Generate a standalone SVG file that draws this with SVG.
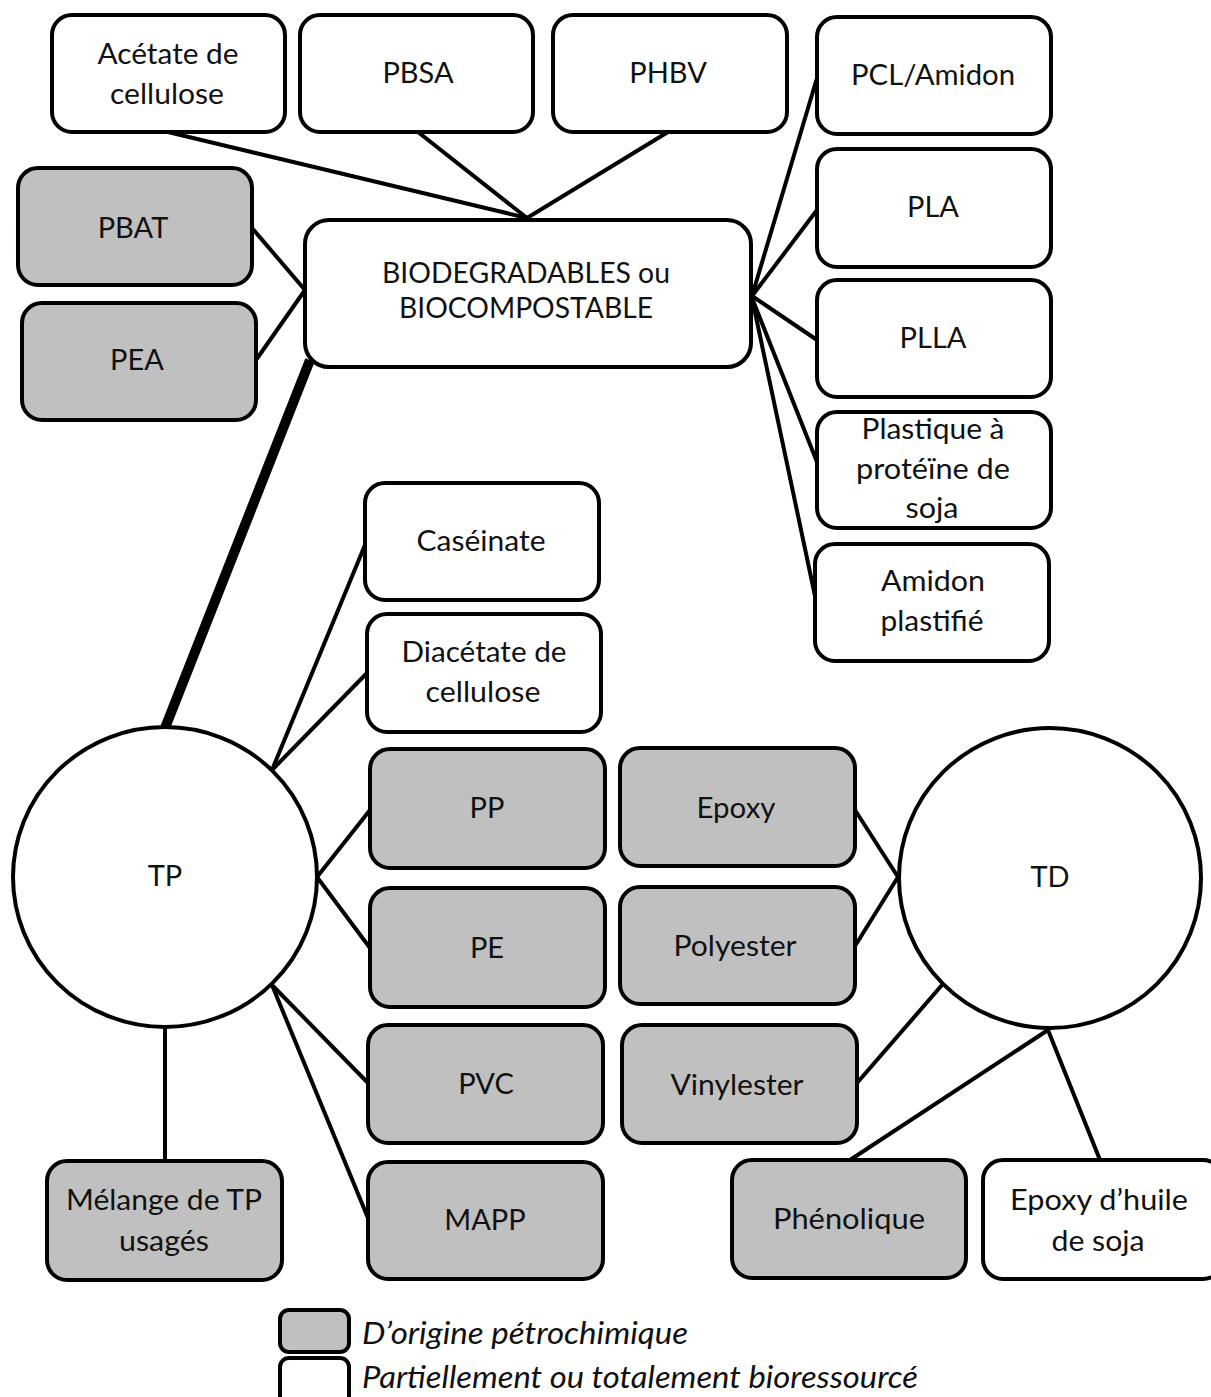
<svg xmlns="http://www.w3.org/2000/svg" width="1211" height="1397" viewBox="0 0 1211 1397">
<style>
.b{fill:#fff;stroke:#000;stroke-width:4}
.g{fill:#c0c0c0;stroke:#000;stroke-width:4}
.c{fill:#fff;stroke:#000;stroke-width:4}
.t{font-family:Lato,"Open Sans","Liberation Sans",sans-serif;font-size:29px;fill:#111;text-anchor:middle}
.l{font-family:Lato,"Open Sans","Liberation Sans",sans-serif;font-size:30px;font-style:italic;fill:#111}
#conn line{stroke:#000;stroke-width:4}
</style>
<rect width="1211" height="1397" fill="#fff"/>
<g id="conn">
<line x1="168" y1="132" x2="527" y2="218"/>
<line x1="418" y1="132" x2="527" y2="218"/>
<line x1="668" y1="132" x2="527" y2="218"/>
<line x1="252" y1="228" x2="305" y2="290"/>
<line x1="256" y1="360" x2="305" y2="290"/>
<line x1="752" y1="296" x2="817" y2="78"/>
<line x1="752" y1="296" x2="817" y2="210"/>
<line x1="752" y1="296" x2="817" y2="340"/>
<line x1="752" y1="298" x2="817" y2="462"/>
<line x1="752" y1="298" x2="815" y2="596"/>
<line x1="310" y1="360" x2="165" y2="728" style="stroke-width:10"/>
<line x1="272" y1="770" x2="365" y2="545"/>
<line x1="272" y1="770" x2="367" y2="673"/>
<line x1="317" y1="877" x2="370" y2="810"/>
<line x1="317" y1="877" x2="370" y2="948"/>
<line x1="272" y1="985" x2="368" y2="1083"/>
<line x1="272" y1="985" x2="368" y2="1218"/>
<line x1="165" y1="1028" x2="165" y2="1161"/>
<line x1="855" y1="810" x2="898" y2="877"/>
<line x1="855" y1="946" x2="898" y2="877"/>
<line x1="857" y1="1083" x2="942" y2="985"/>
<line x1="1048" y1="1030" x2="850" y2="1160"/>
<line x1="1048" y1="1030" x2="1100" y2="1160"/>
</g>
<g id="acetate"><rect class="b" x="52" y="15" width="233" height="117" rx="20"/><text class="t" x="168" y="64" textLength="141" lengthAdjust="spacingAndGlyphs">Acétate de</text><text class="t" x="167" y="104" textLength="114" lengthAdjust="spacingAndGlyphs">cellulose</text></g>
<g id="pbsa"><rect class="b" x="300" y="15" width="233" height="117" rx="20"/><text class="t" x="418" y="83">PBSA</text></g>
<g id="phbv"><rect class="b" x="553" y="15" width="234" height="117" rx="20"/><text class="t" x="668" y="83">PHBV</text></g>
<g id="pcl"><rect class="b" x="817" y="17" width="234" height="117" rx="20"/><text class="t" x="933" y="85" textLength="164" lengthAdjust="spacingAndGlyphs">PCL/Amidon</text></g>
<g id="pla"><rect class="b" x="817" y="149" width="234" height="118" rx="20"/><text class="t" x="933" y="217">PLA</text></g>
<g id="plla"><rect class="b" x="817" y="280" width="234" height="117" rx="20"/><text class="t" x="933" y="348">PLLA</text></g>
<g id="soja"><rect class="b" x="817" y="412" width="234" height="116" rx="20"/><text class="t" x="933" y="439" textLength="143" lengthAdjust="spacingAndGlyphs">Plastique à</text><text class="t" x="933" y="479" textLength="154" lengthAdjust="spacingAndGlyphs">protéïne de</text><text class="t" x="932" y="518" textLength="53" lengthAdjust="spacingAndGlyphs">soja</text></g>
<g id="amidon"><rect class="b" x="815" y="544" width="234" height="117" rx="20"/><text class="t" x="933" y="591" textLength="104" lengthAdjust="spacingAndGlyphs">Amidon</text><text class="t" x="932" y="631" textLength="103" lengthAdjust="spacingAndGlyphs">plastifié</text></g>
<g id="pbat"><rect class="g" x="18" y="168" width="234" height="117" rx="20"/><text class="t" x="133" y="238">PBAT</text></g>
<g id="pea"><rect class="g" x="22" y="303" width="234" height="117" rx="20"/><text class="t" x="137" y="370">PEA</text></g>
<g id="bio"><rect class="b" x="305" y="220" width="446" height="147" rx="24"/><text class="t" x="526" y="283" textLength="288" lengthAdjust="spacingAndGlyphs">BIODEGRADABLES ou</text><text class="t" x="526" y="318" textLength="254" lengthAdjust="spacingAndGlyphs">BIOCOMPOSTABLE</text></g>
<g id="caseinate"><rect class="b" x="365" y="483" width="234" height="117" rx="20"/><text class="t" x="481" y="551" textLength="129" lengthAdjust="spacingAndGlyphs">Caséinate</text></g>
<g id="diacetate"><rect class="b" x="367" y="614" width="234" height="118" rx="20"/><text class="t" x="484" y="662" textLength="165" lengthAdjust="spacingAndGlyphs">Diacétate de</text><text class="t" x="483" y="702" textLength="115" lengthAdjust="spacingAndGlyphs">cellulose</text></g>
<g id="pp"><rect class="g" x="370" y="749" width="235" height="119" rx="20"/><text class="t" x="487" y="818">PP</text></g>
<g id="pe"><rect class="g" x="370" y="888" width="235" height="119" rx="20"/><text class="t" x="487" y="958">PE</text></g>
<g id="pvc"><rect class="g" x="368" y="1025" width="235" height="118" rx="20"/><text class="t" x="486" y="1094">PVC</text></g>
<g id="mapp"><rect class="g" x="368" y="1162" width="235" height="117" rx="20"/><text class="t" x="485" y="1230">MAPP</text></g>
<g id="epoxy"><rect class="g" x="620" y="748" width="235" height="118" rx="20"/><text class="t" x="736" y="818" textLength="79" lengthAdjust="spacingAndGlyphs">Epoxy</text></g>
<g id="polyester"><rect class="g" x="620" y="887" width="235" height="117" rx="20"/><text class="t" x="735" y="956" textLength="123" lengthAdjust="spacingAndGlyphs">Polyester</text></g>
<g id="vinylester"><rect class="g" x="622" y="1025" width="235" height="118" rx="20"/><text class="t" x="737" y="1095" textLength="133" lengthAdjust="spacingAndGlyphs">Vinylester</text></g>
<g id="phenolique"><rect class="g" x="732" y="1160" width="234" height="118" rx="20"/><text class="t" x="849" y="1229" textLength="152" lengthAdjust="spacingAndGlyphs">Phénolique</text></g>
<g id="epoxysoja"><rect class="b" x="983" y="1160" width="240" height="119" rx="20"/><text class="t" x="1099" y="1210" textLength="178" lengthAdjust="spacingAndGlyphs">Epoxy d’huile</text><text class="t" x="1098" y="1251" textLength="93" lengthAdjust="spacingAndGlyphs">de soja</text></g>
<g id="melange"><rect class="g" x="47" y="1161" width="235" height="119" rx="20"/><text class="t" x="164" y="1210" textLength="196" lengthAdjust="spacingAndGlyphs">Mélange de TP</text><text class="t" x="164" y="1251" textLength="90" lengthAdjust="spacingAndGlyphs">usagés</text></g>
<g id="tp"><ellipse class="c" cx="165" cy="877" rx="152" ry="150"/><text class="t" x="165" y="886">TP</text></g>
<g id="td"><ellipse class="c" cx="1050" cy="878" rx="151" ry="150"/><text class="t" x="1050" y="887">TD</text></g>
<g id="legend">
<rect class="g" x="280" y="1310" width="69" height="42" rx="9"/>
<rect class="b" x="280" y="1358" width="69" height="50" rx="9"/>
<text class="l" x="362" y="1344" textLength="326" lengthAdjust="spacingAndGlyphs">D’origine pétrochimique</text>
<text class="l" x="362" y="1388" textLength="556" lengthAdjust="spacingAndGlyphs">Partiellement ou totalement bioressourcé</text>
</g>
</svg>
